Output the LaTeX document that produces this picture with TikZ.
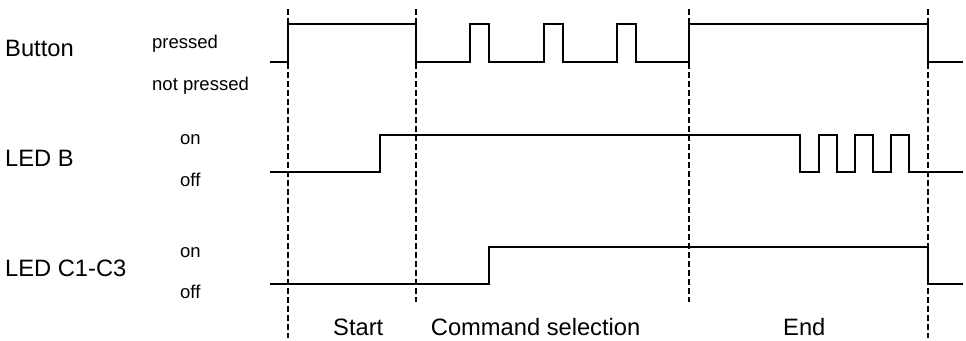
\documentclass[tikz,border=0pt]{standalone}
\usepackage{fontspec}
\setmainfont{Liberation Sans}
\begin{document}
\begin{tikzpicture}[x=1pt,y=-1pt,
  signal/.style={line width=2pt,line join=miter},
  phase/.style={line width=2pt,dash pattern=on 5.5pt off 3.5pt},
  biglabel/.style={anchor=base west,inner sep=0pt,font=\fontsize{23.7}{28}\selectfont},
  smalllabel/.style={anchor=base west,inner sep=0pt,font=\fontsize{18.5}{22}\selectfont}]
\useasboundingbox (0,0) rectangle (966,340);
% phase boundaries
\draw[phase] (288,9) -- (288,338);
\draw[phase] (416,9) -- (416,302);
\draw[phase] (689,9) -- (689,302);
\draw[phase] (928,9) -- (928,338);
% signal names
\node[biglabel] (button) at (5,56.7) {Button};
\node[biglabel] (ledb) at (5,166.7) {LED B};
\node[biglabel] (ledc) at (5,276.7) {LED C1-C3};
% level names
\node[smalllabel] (pressed) at (152,48.5) {pressed};
\node[smalllabel] (notpressed) at (152,90.5) {not pressed};
\node[smalllabel] (bon) at (180,144) {on};
\node[smalllabel] (boff) at (180,186.7) {off};
\node[smalllabel] (con) at (180,257) {on};
\node[smalllabel] (coff) at (180,298) {off};
% phase names
\node[biglabel] (start) at (333,335.7) {Start};
\node[biglabel] (cmd) at (430.7,335.7) {Command selection};
\node[biglabel] (end) at (783,335.7) {End};
% Button signal
\draw[signal] (270,62) -- (288,62) -- (288,24) -- (416,24) -- (416,62)
  -- (470,62) -- (470,24) -- (489,24) -- (489,62)
  -- (544,62) -- (544,24) -- (563,24) -- (563,62)
  -- (617,62) -- (617,24) -- (636,24) -- (636,62)
  -- (689,62) -- (689,24) -- (928,24) -- (928,62) -- (963,62);
% LED B signal
\draw[signal] (270,172) -- (380,172) -- (380,135) -- (800,135) -- (800,172)
  -- (819,172) -- (819,135) -- (837,135) -- (837,172)
  -- (855,172) -- (855,135) -- (873,135) -- (873,172)
  -- (891,172) -- (891,135) -- (909,135) -- (909,172) -- (963,172);
% LED C signal
\draw[signal] (270,284) -- (489,284) -- (489,247) -- (928,247) -- (928,284) -- (963,284);
\end{tikzpicture}
\end{document}
